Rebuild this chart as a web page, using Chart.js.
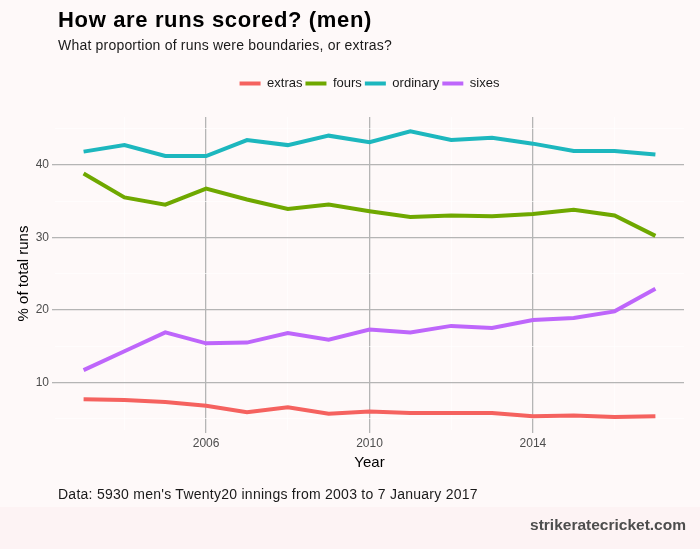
<!DOCTYPE html>
<html>
<head>
<meta charset="utf-8">
<script src="https://cdn.jsdelivr.net/npm/chart.js@4/dist/chart.umd.min.js"></script>
<style>
  html, body { margin: 0; padding: 0; }
  body { width: 700px; height: 549px; position: relative; overflow: hidden; background: #fef9f9; font-family: "Liberation Sans", Arial, sans-serif; }
  #band { position: absolute; left: 0; top: 507px; width: 700px; height: 42px; background: #fdf3f4; }
  #chart { position: absolute; left: 0; top: 0; }
  .txt { position: absolute; line-height: 1; white-space: nowrap; }
  #title { left: 58px; top: 9px; font-size: 22px; font-weight: bold; color: #000; letter-spacing: 0.65px; }
  #subtitle { left: 58px; top: 38px; font-size: 14px; color: #1a1a1a; letter-spacing: 0.2px; }
  #caption { left: 58px; top: 487px; font-size: 14px; color: #1a1a1a; letter-spacing: 0.26px; }
  #site { right: 14px; top: 517px; font-size: 15.5px; font-weight: bold; color: #4d4d4d; }
</style>
</head>
<body>
<div id="band"></div>
<canvas id="chart" width="700" height="549"></canvas>
<div class="txt" id="title">How are runs scored? (men)</div>
<div class="txt" id="subtitle">What proportion of runs were boundaries, or extras?</div>
<div class="txt" id="caption">Data: 5930 men's Twenty20 innings from 2003 to 7 January 2017</div>
<div class="txt" id="site">strikeratecricket.com</div>
<script>
// datos
var years = [2003, 2004, 2005, 2006, 2007, 2008, 2009, 2010, 2011, 2012, 2013, 2014, 2015, 2016, 2017];
var extras = [7.7, 7.6, 7.3, 6.8, 5.9, 6.6, 5.7, 6.0, 5.8, 5.8, 5.8, 5.35, 5.45, 5.25, 5.35];
var fours = [38.8, 35.5, 34.5, 36.7, 35.2, 33.9, 34.5, 33.6, 32.8, 33.0, 32.9, 33.2, 33.8, 33.0, 30.2];
var ordinary = [41.8, 42.7, 41.2, 41.2, 43.4, 42.7, 44.0, 43.1, 44.6, 43.4, 43.7, 42.9, 41.9, 41.9, 41.4];
var sixes = [11.7, 14.3, 16.9, 15.4, 15.5, 16.8, 15.9, 17.3, 16.9, 17.8, 17.5, 18.6, 18.9, 19.8, 22.9];

var xTicks = [2004, 2006, 2008, 2010, 2012, 2014, 2016];
var yTicks = [5, 10, 15, 20, 25, 30, 35, 40, 45];

var fuente = '"Liberation Sans", Arial, sans-serif';

function serie(label, vals, color) {
  return {
    label: label,
    data: years.map(function (yr, i) { return { x: yr, y: vals[i] }; }),
    borderColor: color,
    backgroundColor: color,
    borderWidth: 4,
    pointRadius: 0,
    tension: 0,
    fill: false
  };
}

var ctx = document.getElementById('chart').getContext('2d');
var myChart = new Chart(ctx, {
  type: 'line',
  data: {
    datasets: [
      serie('extras', extras, '#F5625F'),
      serie('fours', fours, '#6FA800'),
      serie('ordinary', ordinary, '#1DB7BE'),
      serie('sixes', sixes, '#BE66FB')
    ]
  },
  options: {
    responsive: false,
    animation: false,
    layout: { padding: { top: 74, left: 0, right: 16, bottom: 69 } },
    plugins: {
      legend: {
        position: 'top',
        fullSize: false,
        labels: {
          boxWidth: 21,
          boxHeight: 4,
          padding: 3,
          color: '#1a1a1a',
          font: { family: fuente, size: 13 },
          generateLabels: function (chart) {
            var items = Chart.defaults.plugins.legend.labels.generateLabels(chart);
            items.forEach(function (it) { it.lineWidth = 0; });
            return items;
          }
        }
      },
      tooltip: { enabled: false }
    },
    scales: {
      x: {
        type: 'linear',
        min: 2002.3,
        max: 2017.7,
        afterBuildTicks: function (s) { s.ticks = xTicks.map(function (v) { return { value: v }; }); },
        afterFit: function (s) { s.height = 50; },
        border: { display: false },
        grid: {
          color: function (c) { return c.tick && c.tick.value % 4 === 2 ? '#b5b5b5' : '#ffffff'; },
          lineWidth: function (c) { return c.tick && c.tick.value % 4 === 2 ? 1.3 : 0.7; },
          tickColor: function (c) { return c.tick && c.tick.value % 4 === 2 ? '#b5b5b5' : 'rgba(0,0,0,0)'; },
          tickLength: 3
        },
        ticks: {
          maxRotation: 0,
          autoSkip: false,
          padding: 3,
          color: '#4d4d4d',
          font: { family: fuente, size: 12 },
          callback: function (v) { return v % 4 === 2 ? String(v) : ''; }
        },
        title: {
          display: true,
          text: 'Year',
          color: '#000',
          padding: { top: 0, bottom: 8 },
          font: { family: fuente, size: 15 }
        }
      },
      gap: {
        type: 'linear',
        position: 'top',
        display: true,
        afterFit: function (s) { s.height = 17; },
        border: { display: false },
        grid: { display: false },
        ticks: { display: false }
      },
      y: {
        min: 3.46,
        max: 46.57,
        afterBuildTicks: function (s) { s.ticks = yTicks.map(function (v) { return { value: v }; }); },
        afterFit: function (s) { s.width = 55; },
        border: { display: false },
        grid: {
          color: function (c) { return c.tick && c.tick.value % 10 === 0 ? '#b5b5b5' : '#ffffff'; },
          lineWidth: function (c) { return c.tick && c.tick.value % 10 === 0 ? 1.3 : 0.7; },
          tickColor: function (c) { return c.tick && c.tick.value % 10 === 0 ? '#b5b5b5' : 'rgba(0,0,0,0)'; },
          tickLength: 3
        },
        ticks: {
          autoSkip: false,
          padding: 3,
          color: '#4d4d4d',
          font: { family: fuente, size: 12 },
          callback: function (v) { return v % 10 === 0 ? String(v) : ''; }
        },
        title: {
          display: true,
          text: '% of total runs',
          color: '#000',
          padding: { top: 15, bottom: 0 },
          font: { family: fuente, size: 15 }
        }
      }
    }
  }
});
</script>
</body>
</html>
